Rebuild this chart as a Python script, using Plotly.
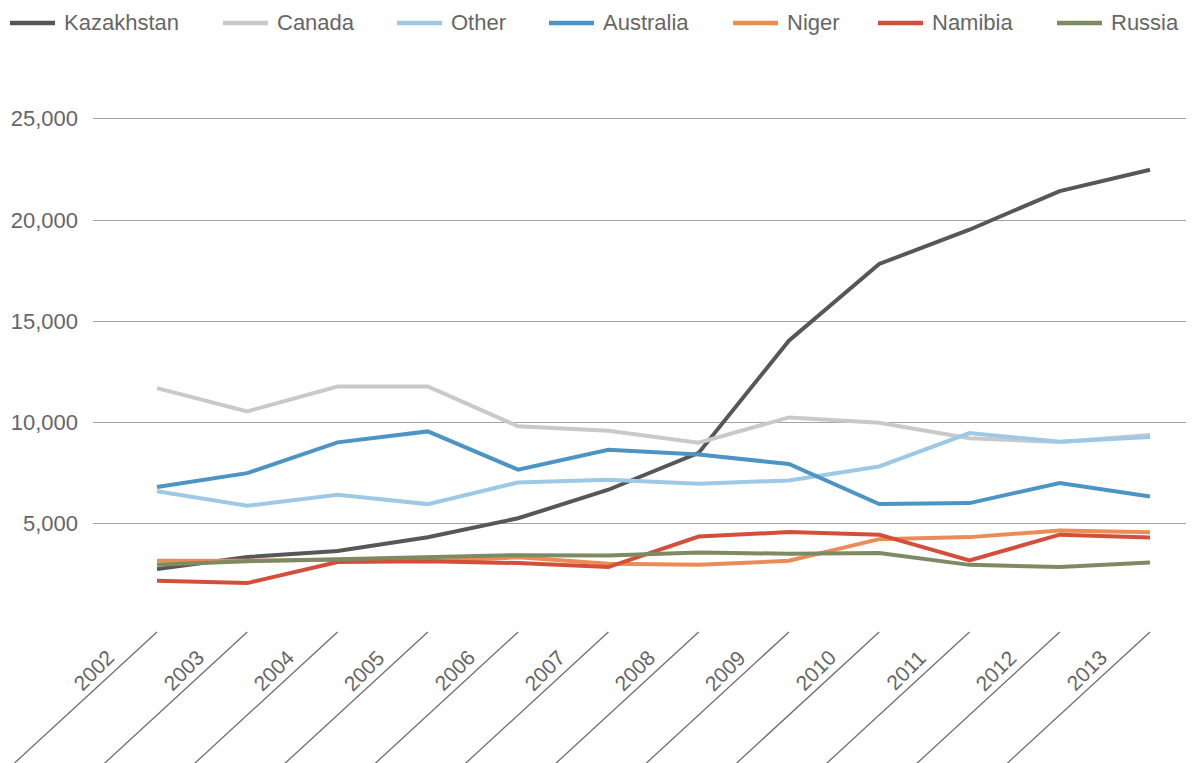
import plotly.graph_objects as go

years = [str(y) for y in range(2002, 2014)]

kazakhstan = [2760, 3360, 3650, 4330, 5270, 6680, 8500, 14040, 17830, 19520, 21430, 22480]
canada = [11700, 10550, 11780, 11780, 9810, 9590, 9000, 10250, 9990, 9220, 9040, 9380]
other = [6600, 5890, 6430, 5970, 7040, 7170, 6980, 7140, 7830, 9480, 9050, 9280]
australia = [6810, 7500, 9020, 9560, 7670, 8650, 8420, 7950, 5970, 6020, 7010, 6350]
niger = [3170, 3170, 3220, 3150, 3340, 3020, 2970, 3170, 4240, 4340, 4670, 4580]
namibia = [2180, 2070, 3110, 3150, 3060, 2860, 4370, 4590, 4460, 3190, 4460, 4320]
russia = [2970, 3150, 3250, 3360, 3450, 3430, 3580, 3520, 3550, 2970, 2860, 3090]

series = [
    ("Kazakhstan", kazakhstan, "#575757"),
    ("Canada", canada, "#c9c9c9"),
    ("Other", other, "#9dc9e6"),
    ("Australia", australia, "#4c94c4"),
    ("Niger", niger, "#ec8c55"),
    ("Namibia", namibia, "#d44f3b"),
    ("Russia", russia, "#7e8b62"),
]

y_ticks = [5000, 10000, 15000, 20000, 25000]
x_range = [-0.709, 11.576]
TEXT = "#666666"
FONT = "Liberation Sans, Arial, sans-serif"

# layout geometry (pixels)
W, H = 1194, 763
M = dict(l=85, r=0, t=50, b=146)
plot_w = W - M["l"] - M["r"]
plot_h = H - M["t"] - M["b"]
legend_px = [2, 215, 389, 541, 725, 870, 1049]  # left end of each legend swatch
legend_py = 15


def px_to_paper_x(px):
    return (px - M["l"]) / plot_w


def py_to_paper_y(py):
    return (H - M["b"] - py) / plot_h


fig = go.Figure()
for name, vals, color in series:
    fig.add_trace(go.Scatter(
        x=years, y=vals, name=name, mode="lines",
        line=dict(color=color, width=4), showlegend=False,
    ))

# hand-placed legend row (Excel style: long swatches, wide gaps)
ly = py_to_paper_y(legend_py)
for (name, _, color), lx in zip(series, legend_px):
    fig.add_shape(
        type="line", xref="paper", yref="paper",
        x0=px_to_paper_x(lx), x1=px_to_paper_x(lx + 45), y0=ly, y1=ly,
        line=dict(color=color, width=4.5),
    )
    fig.add_annotation(
        x=px_to_paper_x(lx + 52), xref="paper", y=ly, yref="paper",
        text=name, showarrow=False, xanchor="left", yanchor="middle",
        font=dict(size=22, color=TEXT, family=FONT),
    )

# diagonal tick lines and rotated year labels under the plot
span = x_range[1] - x_range[0]
for i, yr in enumerate(years):
    xp = (i - x_range[0]) / span
    fig.add_shape(
        type="line", xref="paper", yref="paper",
        xsizemode="pixel", ysizemode="pixel",
        xanchor=xp, yanchor=0,
        x0=0, y0=-7, x1=-174, y1=-167,
        line=dict(color="#6e6e6e", width=1.3),
    )
    fig.add_annotation(
        x=xp, xref="paper", y=0, yref="paper",
        text=yr, showarrow=False, textangle=-45,
        xanchor="center", yanchor="middle",
        xshift=-64, yshift=-45,
        font=dict(size=21, color=TEXT, family=FONT),
    )

fig.update_layout(
    width=W, height=H,
    margin=dict(**M, autoexpand=False),
    plot_bgcolor="white", paper_bgcolor="white",
    font=dict(family=FONT, size=21, color=TEXT),
    showlegend=False,
    xaxis=dict(
        type="category", range=x_range, showticklabels=False,
        showgrid=False, zeroline=False, showline=False, ticks="",
    ),
    yaxis=dict(
        range=[0, 28000], tickvals=y_ticks, tickformat=",d",
        showgrid=True, gridcolor="#a3a3a3", gridwidth=1.3,
        zeroline=False, showline=False, ticks="",
        ticklabelstandoff=14,
        tickfont=dict(size=22, color=TEXT, family=FONT),
    ),
)

fig.write_html("out.html")
